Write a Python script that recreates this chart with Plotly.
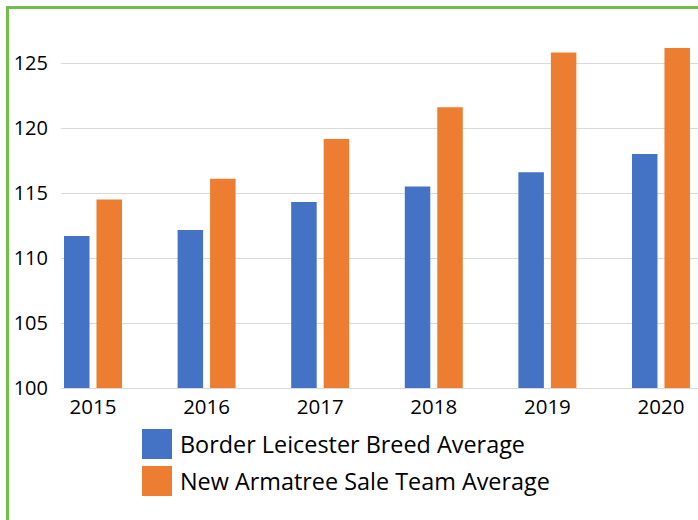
import plotly.graph_objects as go

years = ["2015", "2016", "2017", "2018", "2019", "2020"]
breed_avg = [111.7, 112.15, 114.3, 115.5, 116.6, 118.0]
armatree_avg = [114.5, 116.1, 119.15, 121.6, 125.8, 126.15]
series_names = ["Border Leicester Breed Average", "New Armatree Sale Team Average"]
y_ticks = [100, 105, 110, 115, 120, 125]

BLUE = "#4472C4"
ORANGE = "#ED7D31"
GREEN = "#72BF48"
FONT = "Open Sans"

W, H = 698, 520
L, R, T, B = 61, 0, 24, 132
PW, PH = W - L - R, H - T - B

def px_x(px):
    return (px - L) / PW

def px_y(py):
    return (H - B - py) / PH

fig = go.Figure()
fig.add_trace(go.Bar(x=years, y=breed_avg, name=series_names[0], marker=dict(color=BLUE, line=dict(width=0)), showlegend=False))
fig.add_trace(go.Bar(x=years, y=armatree_avg, name=series_names[1], marker=dict(color=ORANGE, line=dict(width=0)), showlegend=False))

shapes = []
# green frame (left and top)
shapes.append(dict(type="line", xref="paper", yref="paper", x0=px_x(7.5), x1=px_x(7.5), y0=px_y(7.5), y1=px_y(530), line=dict(color=GREEN, width=3)))
shapes.append(dict(type="line", xref="paper", yref="paper", x0=px_x(6), x1=px_x(710), y0=px_y(7.5), y1=px_y(7.5), line=dict(color=GREEN, width=3)))

# manual legend
annotations = []
legend_rows = [(series_names[0], BLUE, 429), (series_names[1], ORANGE, 466)]
for name, col, top in legend_rows:
    shapes.append(dict(type="rect", xref="paper", yref="paper", x0=px_x(142), x1=px_x(172), y0=px_y(top), y1=px_y(top + 30), line=dict(width=0), fillcolor=col))
    annotations.append(dict(xref="paper", yref="paper", x=px_x(178), y=px_y(top + 15), text=name, showarrow=False, xanchor="left", yanchor="middle", font=dict(family=FONT, size=23.4, color="#000000")))

fig.update_layout(
    width=W, height=H,
    margin=dict(l=L, r=R, t=T, b=B),
    paper_bgcolor="white", plot_bgcolor="white",
    barmode="group", bargap=0.428, bargroupgap=0.215,
    font=dict(family=FONT, size=20, color="#000000"),
    shapes=shapes, annotations=annotations,
    xaxis=dict(type="category", range=[-0.2817, 5.326], showgrid=False, showline=True, linecolor="#D9D9D9", linewidth=1,
               ticks="", tickfont=dict(family=FONT, size=20.5, color="#000000"), ticklabelstandoff=0),
    yaxis=dict(range=[100, 128], tickvals=y_ticks, showgrid=True, gridcolor="#D9D9D9", gridwidth=1,
               zeroline=False, showline=False, ticks="", tickfont=dict(family=FONT, size=20, color="#000000"),
               ticklabelstandoff=12),
)

fig.write_html("out.html")
